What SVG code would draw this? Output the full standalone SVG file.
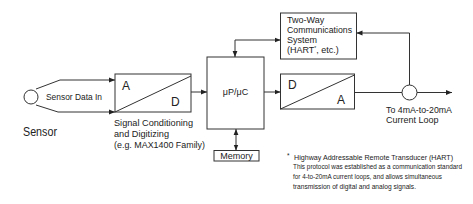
<svg xmlns="http://www.w3.org/2000/svg" width="473" height="204" viewBox="0 0 473 204">
<defs>
<marker id="ah" viewBox="0 0 10 10" refX="10" refY="5" markerWidth="6" markerHeight="6" markerUnits="userSpaceOnUse" orient="auto-start-reverse">
<path d="M0,1 L10,5 L0,9 z" fill="#222"/>
</marker>
<style>
.b{fill:#fff;stroke:#333;stroke-width:1}
.l{fill:none;stroke:#333;stroke-width:1}
.t{font-family:"Liberation Sans",Arial,sans-serif;fill:#222;font-size:9px}
.s{font-family:"Liberation Sans",Arial,sans-serif;fill:#222;font-size:6.5px}
.big{font-family:"Liberation Sans",Arial,sans-serif;fill:#222;font-size:12px}
</style>
</defs>
<rect width="473" height="204" fill="#fff"/>
<g id="sensor">
<ellipse class="b" cx="31" cy="97" rx="7" ry="7"/>
<text class="t" x="46" y="100" font-size="8.5" textLength="56" lengthAdjust="spacingAndGlyphs">Sensor Data In</text>
<text class="big" x="23" y="136" textLength="34" lengthAdjust="spacingAndGlyphs">Sensor</text>
</g>
<g id="adc">
<rect class="b" x="115" y="74" width="76" height="38"/>
<line class="l" x1="115" y1="112" x2="191" y2="76"/>
<text class="big" x="122" y="90">A</text>
<text class="big" x="171" y="106">D</text>
<text class="t" x="114" y="126" textLength="79" lengthAdjust="spacingAndGlyphs">Signal Conditioning</text>
<text class="t" x="114" y="137" textLength="55" lengthAdjust="spacingAndGlyphs">and Digitizing</text>
<text class="t" x="114" y="148" textLength="91" lengthAdjust="spacingAndGlyphs">(e.g. MAX1400 Family)</text>
</g>
<g id="mpu">
<rect class="b" x="207" y="57" width="57" height="72"/>
<text class="t" x="235.5" y="95" text-anchor="middle">μP/μC</text>
</g>
<g id="memory">
<rect class="b" x="214" y="150.5" width="45" height="10.5"/>
<text class="t" x="236.5" y="159" text-anchor="middle" font-size="8.5">Memory</text>
</g>
<g id="comm">
<rect class="b" x="280.5" y="13" width="76" height="46"/>
<text class="t" x="287" y="23">Two-Way</text>
<text class="t" x="287" y="33" textLength="65" lengthAdjust="spacingAndGlyphs">Communications</text>
<text class="t" x="287" y="43">System</text>
<text class="t" x="287" y="53">(HART<tspan font-size="5" dy="-3">*</tspan><tspan dy="3">, etc.)</tspan></text>
</g>
<g id="dac">
<rect class="b" x="280.5" y="74" width="74" height="35"/>
<line class="l" x1="280.5" y1="109" x2="354.5" y2="75"/>
<text class="big" x="288" y="89">D</text>
<text class="big" x="337" y="104">A</text>
</g>
<g id="loop">
<circle class="b" cx="409.5" cy="92.5" r="7.5"/>
<text class="t" x="386" y="113" textLength="66" lengthAdjust="spacingAndGlyphs">To 4mA-to-20mA</text>
<text class="t" x="386" y="123">Current Loop</text>
</g>
<g id="connectors">
<polyline class="l" points="36,89 60,80 115,80" marker-end="url(#ah)"/>
<polyline class="l" points="36,105 58,112 115,112" marker-end="url(#ah)"/>
<line class="l" x1="191" y1="92" x2="207" y2="92" marker-end="url(#ah)"/>
<line class="l" x1="264" y1="92" x2="280.5" y2="92" marker-end="url(#ah)"/>
<line class="l" x1="236" y1="129" x2="236" y2="150.5" marker-start="url(#ah)" marker-end="url(#ah)"/>
<polyline class="l" points="280.5,40 235,40 235,57" marker-start="url(#ah)" marker-end="url(#ah)"/>
<line class="l" x1="354.5" y1="92.5" x2="402" y2="92.5"/>
<line class="l" x1="417" y1="92.5" x2="452" y2="92.5" marker-end="url(#ah)"/>
<polyline class="l" points="409.5,85 409.5,33 356.5,33" marker-end="url(#ah)"/>
</g>
<g id="footnote">
<text class="s" x="287" y="158" font-size="6">*</text>
<text class="s" x="294" y="160" font-size="7.5" textLength="159" lengthAdjust="spacingAndGlyphs">Highway Addressable Remote Transducer (HART)</text>
<text class="s" x="293" y="169" textLength="169" lengthAdjust="spacingAndGlyphs">This protocol was established as a communication standard</text>
<text class="s" x="293" y="179" textLength="149" lengthAdjust="spacingAndGlyphs">for 4-to-20mA current loops, and allows simultaneous</text>
<text class="s" x="293" y="189" textLength="123" lengthAdjust="spacingAndGlyphs">transmission of digital and analog signals.</text>
</g>
</svg>
